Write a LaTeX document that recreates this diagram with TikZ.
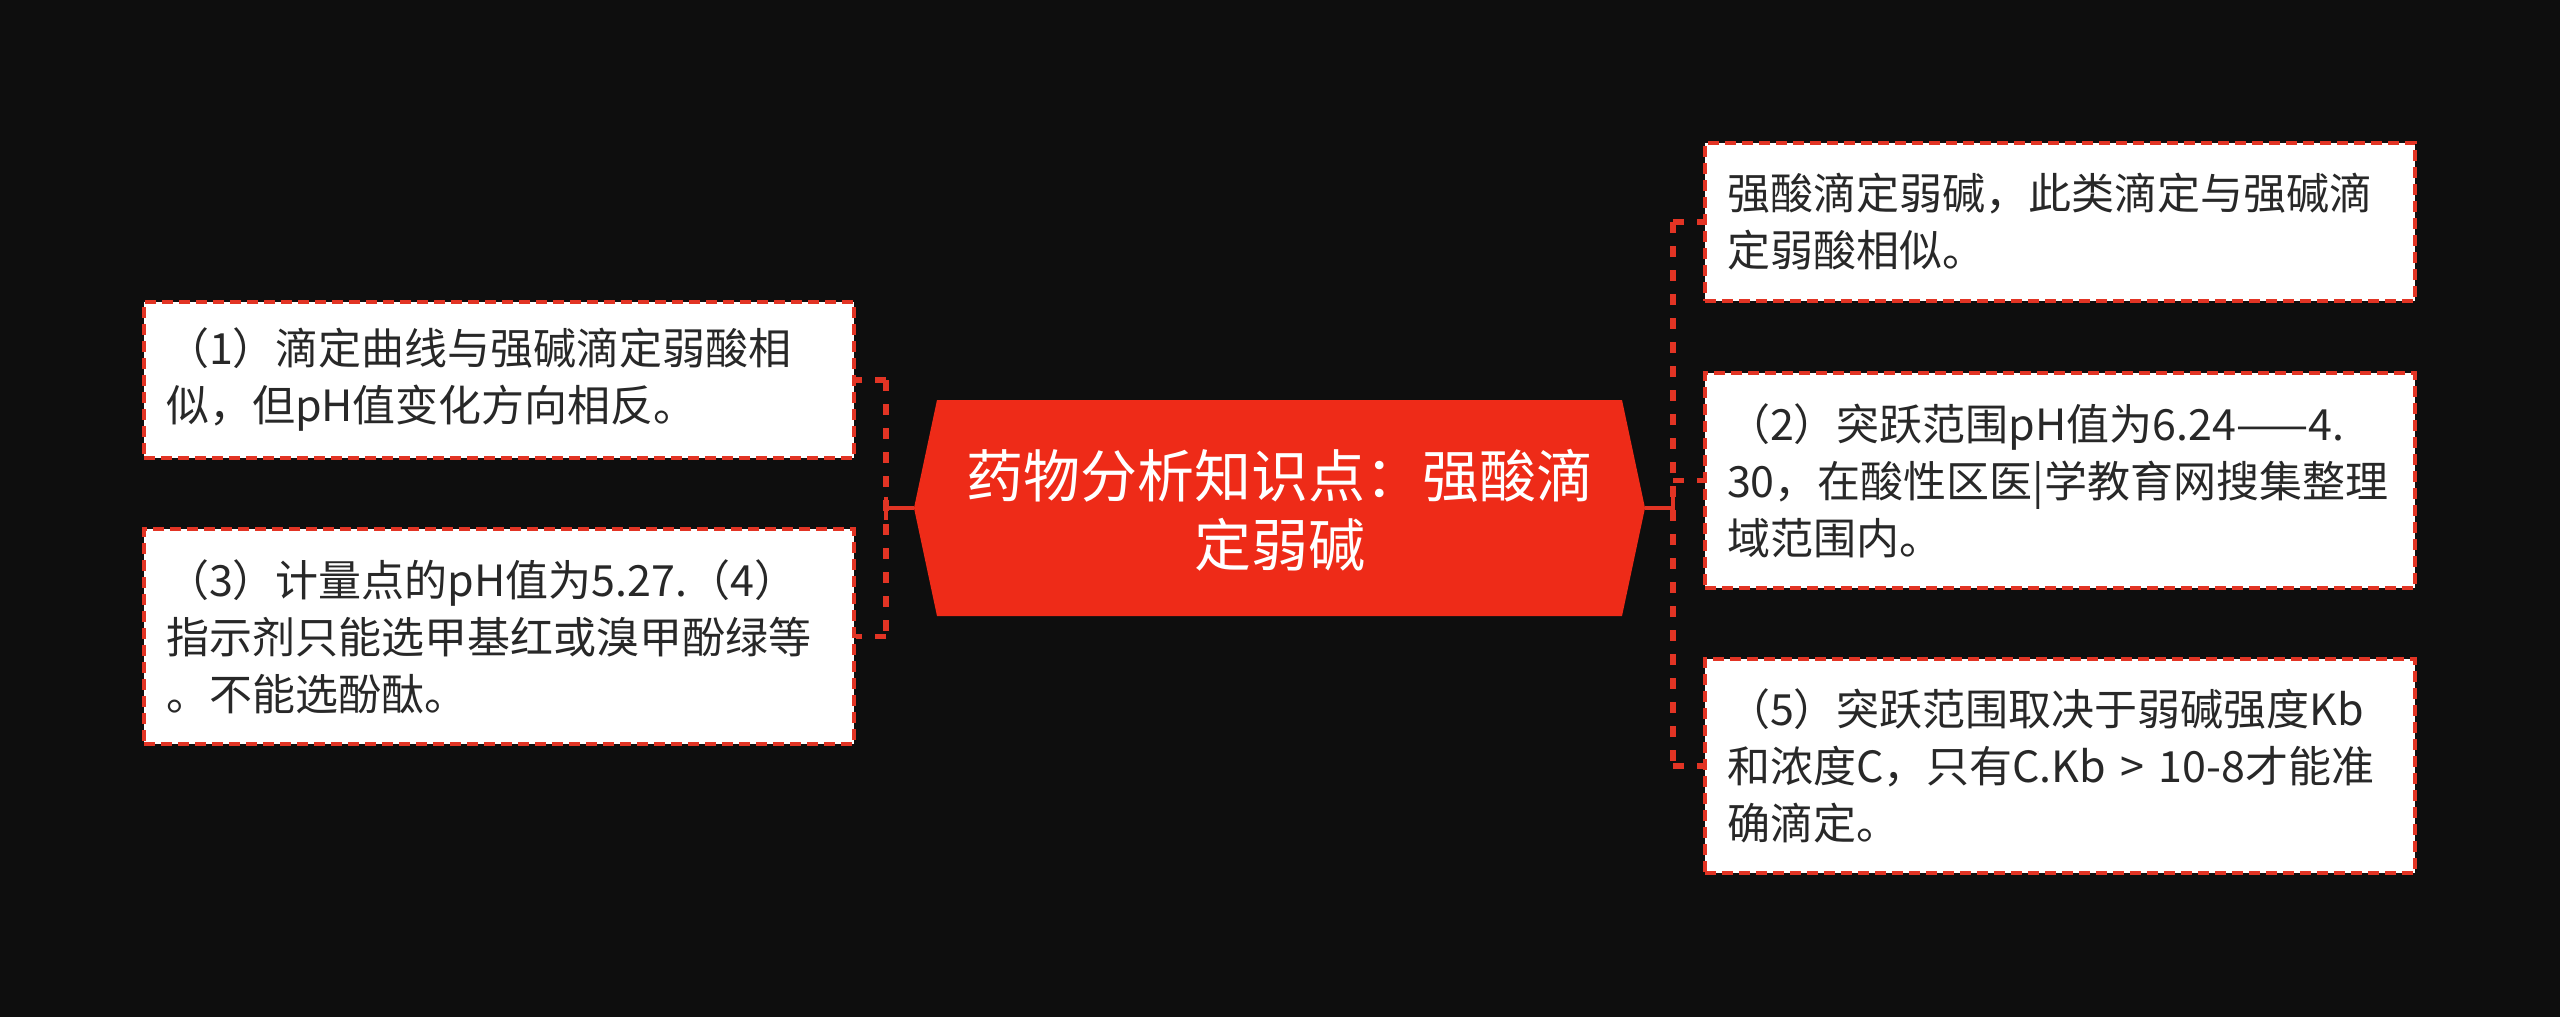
\documentclass[tikz,border=0pt]{standalone}
\usepackage{fontspec}
\setmainfont{Noto Sans CJK SC}
\definecolor{bgc}{RGB}{14,14,14}
\definecolor{redc}{RGB}{226,52,36}
\definecolor{hubc}{RGB}{238,43,24}
\definecolor{textc}{RGB}{40,40,40}
\begin{document}
\begin{tikzpicture}[x=0.5pt,y=-0.5pt,
  leaf/.style={draw=redc, line width=1.7pt, dash pattern=on 5.5pt off 3pt,
    fill=white, text=textc, font=\fontsize{21.5pt}{28.5pt}\selectfont,
    text width=333pt, align=left, inner xsep=11pt, inner ysep=0pt,
    minimum height=#1},
  hubtext/.style={text=white, font=\fontsize{28.5pt}{34.5pt}\selectfont, align=center, inner sep=0pt},
  conn/.style={draw=redc, line width=2pt},
  conndash/.style={draw=redc, line width=2.6pt, dash pattern=on 5.5pt off 6.5pt}]
\fill[bgc] (0,0) rectangle (2560,1017);
\useasboundingbox (0,0) rectangle (2560,1017);

% hub shape
\fill[hubc] (914,508) -- (937,400) -- (1622,400) -- (1645,508) -- (1622,616) -- (937,616) -- cycle;
\node[hubtext] (hub) at (1279.5,510) {药物分析知识点：强酸滴\\定弱碱};

% connectors
\coordinate (cL) at (914,508);
\coordinate (jL) at (886,508);
\coordinate (cR) at (1645,508);
\coordinate (jR) at (1673,508);

% leaves
\node[leaf=78pt] (b1) at (499,380) {（1）滴定曲线与强碱滴定弱酸相\\似，但pH值变化方向相反。};
\node[leaf=107.5pt] (b2) at (499,636.5) {（3）计量点的pH值为5.27.（4）\\指示剂只能选甲基红或溴甲酚绿等\\。不能选酚酞。};
\node[leaf=79pt] (r1) at (2060,222) {强酸滴定弱碱，此类滴定与强碱滴\\定弱酸相似。};
\node[leaf=107.5pt] (r2) at (2060,480.5) {（2）突跃范围pH值为6.24——4.\\30，在酸性区医|学教育网搜集整理\\域范围内。};
\node[leaf=107pt] (r3) at (2060,766) {（5）突跃范围取决于弱碱强度Kb\\和浓度C，只有C.Kb > 10-8才能准\\确滴定。};

\draw[conn] (cL) -- (jL);
\draw[conn] ([yshift=5.75pt]jL) -- ([yshift=-5.75pt]jL);
\draw[conndash] (jL |- b1.east) -- (jL |- b2.east);
\draw[conndash] (jL |- b1.east) -- (b1.east);
\draw[conndash] (jL |- b2.east) -- (b2.east);

\draw[conn] (cR) -- (jR);
\draw[conn] ([yshift=5.75pt]jR) -- ([yshift=-5.75pt]jR);
\draw[conndash] (jR |- r1.west) -- (jR |- r3.west);
\draw[conndash] (jR |- r1.west) -- (r1.west);
\draw[conndash] (jR |- r2.west) -- (r2.west);
\draw[conndash] (jR |- r3.west) -- (r3.west);
\end{tikzpicture}
\end{document}
